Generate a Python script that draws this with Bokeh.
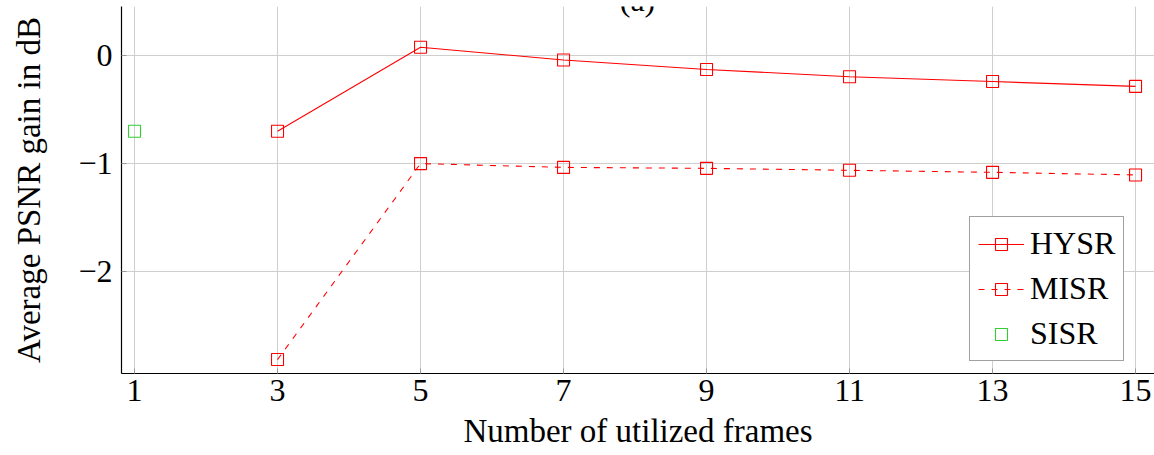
from bokeh.plotting import figure
from bokeh.models import FixedTicker, Range1d, Legend, LegendItem, Label
from bokeh.embed import file_html
from bokeh.resources import INLINE

# Data
frames = [3, 5, 7, 9, 11, 13, 15]
hysr = [-0.705, 0.072, -0.045, -0.134, -0.20, -0.245, -0.29]
misr = [-2.82, -1.005, -1.04, -1.049, -1.067, -1.086, -1.11]
sisr_frames = [1]
sisr = [-0.705]
x_ticks = [1, 3, 5, 7, 9, 11, 13, 15]
y_ticks = [-2, -1, 0]
y_tick_labels = {-2: "\u22122", -1: "\u22121", 0: "0"}

FONT = "Liberation Serif"
FS = "32px"
RED = "#ff0000"
GREEN = "#33cc33"

p = figure(width=1154, height=455, output_backend="svg", toolbar_location=None,
           x_range=Range1d(0.818, 15.265), y_range=Range1d(-2.949, 0.45),
           min_border_left=121, min_border_right=0, min_border_top=6, min_border_bottom=82)
p.outline_line_color = None
p.background_fill_color = "white"
p.border_fill_color = "white"

for ax in (p.xaxis[0], p.yaxis[0]):
    ax.axis_line_color = "black"
    ax.axis_line_width = 1.2
    ax.major_tick_in = 5
    ax.major_tick_out = 0
    ax.major_tick_line_color = "#999999"
    ax.minor_tick_line_color = None
    ax.major_label_text_font = FONT
    ax.major_label_text_font_size = FS
    ax.major_label_text_color = "black"
    ax.axis_label_text_font = FONT
    ax.axis_label_text_font_size = "33px"
    ax.axis_label_text_font_style = "normal"
    ax.axis_label_text_color = "black"

p.xaxis.ticker = FixedTicker(ticks=x_ticks)
p.yaxis.ticker = FixedTicker(ticks=y_ticks)
p.yaxis.major_label_overrides = y_tick_labels
p.xaxis.axis_label = "Number of utilized frames"
p.yaxis.axis_label = "Average PSNR gain in dB"
p.xaxis.major_label_standoff = 6
p.yaxis.major_label_standoff = 9
p.xaxis.axis_label_standoff = 9
p.yaxis.axis_label_standoff = 28

p.xgrid.ticker = FixedTicker(ticks=x_ticks)
p.ygrid.ticker = FixedTicker(ticks=y_ticks)
p.grid.grid_line_color = "#cfcfcf"
p.grid.grid_line_width = 1

l1 = p.line(frames, hysr, line_color=RED, line_width=1.1)
s1 = p.scatter(frames, hysr, marker="square", size=12, fill_color=None, line_color=RED, line_width=1.1)
l2 = p.line(frames, misr, line_color=RED, line_width=1.1, line_dash="6 7")
s2 = p.scatter(frames, misr, marker="square", size=12, fill_color=None, line_color=RED, line_width=1.1)
s3 = p.scatter(sisr_frames, sisr, marker="square", size=12, fill_color=None, line_color=GREEN, line_width=1.1)

legend = Legend(items=[
    LegendItem(label="HYSR", renderers=[l1, s1]),
    LegendItem(label="MISR", renderers=[l2, s2]),
    LegendItem(label="SISR", renderers=[s3]),
], location=(848, 12))
legend.label_text_font = FONT
legend.label_text_font_size = FS
legend.label_text_color = "black"
legend.glyph_width = 46
legend.glyph_height = 30
legend.label_height = 30
legend.label_standoff = 6
legend.spacing = 8
legend.padding = 8
legend.margin = 0
legend.border_line_color = "#444444"
legend.border_line_width = 1
legend.background_fill_color = "white"
legend.background_fill_alpha = 1
p.add_layout(legend, "center")

title = Label(x=516, y=356, x_units="screen", y_units="screen", text="(a)",
              text_font=FONT, text_font_size=FS, text_align="center",
              text_baseline="bottom", text_color="black")
p.add_layout(title)

open("out.html", "w").write(file_html(p, INLINE))
